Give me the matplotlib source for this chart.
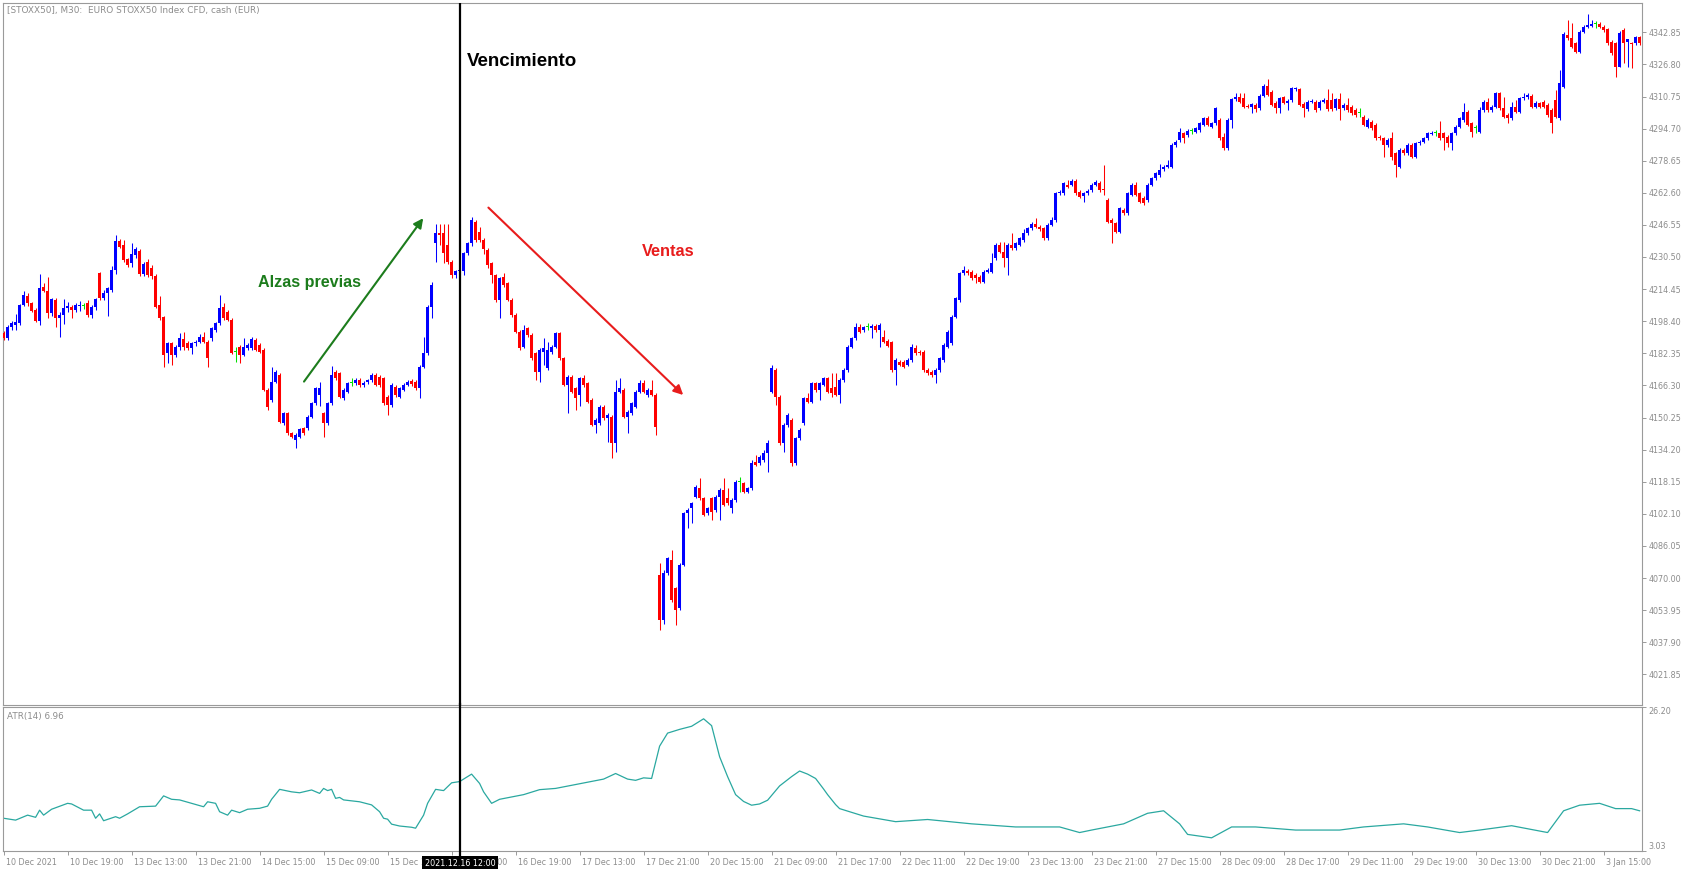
import matplotlib
matplotlib.use("Agg")
import matplotlib.pyplot as plt
import numpy as np
from matplotlib.transforms import ScaledTranslation

W, H, DPI = 1695, 869, 100

# ---------------- data (M30 candles, bar 0 = 10 Dec 11:00) ----------------
opens = [4192.7,4189.8,4195.5,4196.5,4197.3,4206.5,4211,4207.3,4204,4198.7,
 4215.7,4213.7,4202.3,4209,4199.8,4201.5,4204.8,4205.7,4204,4206,
 4206,4207.7,4201.5,4205.3,4222.3,4209.8,4212.3,4214,4224,4238.7,
 4236.5,4229.3,4227.3,4231.5,4233.7,4222,4228,4225,4221,4206.5,
 4200.7,4182.3,4187.3,4181.5,4185.7,4189.3,4187.3,4184.8,4187.3,4188.2,
 4190.7,4188.2,4189.8,4194,4197.3,4205.7,4203.2,4199,4183.2,4185.7,
 4181.5,4184.8,4184.8,4189,4186.5,4184,4164,4159,4168.2,4171.5,
 4147.3,4152.3,4142.3,4139,4140.7,4144.8,4144.8,4150.7,4157.3,4161.5,
 4152.3,4147.3,4157.3,4173.2,4172.3,4159.8,4163.2,4167.7,4167.3,4169,
 4166.5,4168,4169,4171.5,4170.7,4169.8,4160.7,4156.5,4165.7,4160.7,
 4164,4166.5,4168.5,4168.2,4164.8,4175.7,4182.5,4205.7,4237.3,4242.3,
 4242.3,4236.5,4228.2,4221.5,4223.3,4223.5,4232.3,4237.3,4248.2,4243,
 4239,4234,4227.3,4221.5,4209,4220.7,4217.3,4209,4201.5,4193.2,
 4185.7,4194.8,4191.5,4182.3,4173.2,4183.2,4174.8,4183,4185.7,4192.3,
 4179.8,4166.5,4170.7,4164.8,4161.5,4169.8,4167.3,4159,4146.5,4147.3,
 4155.7,4149.8,4150.7,4137.3,4163.2,4164,4150.7,4152.3,4155.7,4163.2,
 4167.3,4161.5,4164,4161.5,4071.5,4049,4072.3,4079,4064.8,4054.8,
 4076.5,4102.3,4104.8,4110.7,4114.8,4109.8,4102.3,4109.8,4104,4110.7,
 4114,4109.8,4104.8,4109,4118.2,4117.3,4113.2,4114.8,4128.2,4127.3,
 4129,4132.3,4163.2,4174,4160.7,4137.3,4146.5,4149,4127.3,4139.8,
 4147.3,4159.8,4158.2,4167.3,4164,4166.5,4169.8,4164.8,4165.7,4161.5,
 4169,4174,4185.7,4189.8,4195.7,4194,4195.3,4194.8,4196,4194,
 4190.7,4188.7,4187.8,4174,4178.2,4178.2,4176.5,4179,4184.8,4183.2,
 4183.2,4174,4173.2,4171.5,4174,4179,4185.7,4187.3,4200.7,4209,
 4222.3,4223.7,4223.2,4221.5,4220.7,4218.2,4223.2,4223.2,4229.8,4236.5,
 4233.2,4229.8,4236.5,4234.8,4236.5,4239,4242.3,4244.8,4247,4245.7,
 4244.8,4239.8,4246.5,4249,4262.3,4262.3,4266.5,4266.5,4268.7,4263.2,
 4261,4262.3,4264,4266.5,4267.7,4264.3,4259,4249,4247.3,4243.2,
 4254,4252.3,4261.5,4266.5,4262.3,4260.2,4259,4266.5,4269.8,4271.5,
 4274.3,4275.7,4275.7,4286.5,4289,4292.3,4291.5,4293.7,4293.2,4294,
 4296.5,4299.8,4295.7,4297.3,4299,4290.7,4284.8,4299,4309.3,4310.3,
 4309.8,4306,4305.7,4306.5,4304.8,4311,4316,4313.2,4307.7,4304.8,
 4310.3,4307.7,4309,4314.3,4314.3,4307,4304.3,4308.2,4308.2,4304.8,
 4308.2,4309,4309,4304.8,4309.3,4304.8,4306.5,4305.7,4304,4302.3,
 4300.7,4295.7,4298.2,4296.5,4290.7,4289.8,4286.5,4289.8,4282.3,4275.7,
 4284,4282.3,4286.5,4280.7,4287.3,4288.2,4289.8,4292,4292.7,4292.7,
 4292.3,4290.7,4287.3,4292.3,4295.7,4299,4303.2,4297.3,4294.8,4293.2,
 4304,4308.2,4304,4305.7,4312.3,4304.8,4301.5,4299.8,4305.7,4303.2,
 4309.8,4310.3,4311,4305.7,4307.3,4308.2,4306.5,4304,4309,4299.8,
 4315.7,4341.5,4339.8,4337.3,4333.2,4343.2,4345.7,4346,4347,4347,
 4345.7,4344.3,4338.2,4337.3,4325.7,4344,4338.2,4337.3,4337.3,4340.3]

highs = [4193.5,4196.5,4198.5,4202,4207,4213.7,4212.3,4208,4205,4222,
 4217.3,4220.7,4210,4210,4203,4209.7,4208,4206.5,4207.5,4208.5,
 4207.7,4209,4206.5,4210,4223,4214,4215.5,4226,4241.5,4239.3,
 4239,4230,4237.7,4235.5,4234.5,4228,4229.5,4226.5,4222,4211,
 4201,4188,4188,4186.5,4192.7,4193,4188.5,4188,4189,4192,
 4193,4189,4195.5,4198,4211.5,4207.3,4204,4200,4185.7,4186.5,
 4189.8,4187.5,4190.7,4190,4187.3,4185,4165,4175.7,4174,4172.5,
 4153,4153,4143,4142.5,4145,4145.5,4151.5,4158,4165.5,4168.2,
 4153,4158,4176,4174,4173,4164.8,4168.2,4170,4170,4170,
 4168.5,4169.5,4172.5,4172.5,4171.5,4170.5,4161.5,4167.3,4166.5,4165.7,
 4167.3,4169,4169.5,4169,4176.5,4190.7,4206.5,4218,4246.8,4246.8,
 4246.8,4246.8,4229,4224,4225,4233,4238,4250.7,4249,4245.7,
 4240,4235,4228,4222,4220.7,4222.3,4218,4210,4202.5,4194,
 4196.5,4195.5,4192.5,4183,4184.8,4189.8,4188,4186.5,4193,4193,
 4180.5,4171.5,4171.5,4165.5,4170.5,4171.5,4168,4160,4149.8,4156.5,
 4156.5,4152.5,4151.5,4169,4169.8,4165,4154,4158,4164,4169,
 4169,4165,4169,4162.3,4077.3,4074,4080.5,4084,4065.5,4077.3,
 4103,4105,4108,4116.5,4119.8,4110.5,4105.5,4110.5,4111.5,4114.8,
 4119.8,4114.8,4109.8,4119,4120.7,4118,4115.5,4129,4131.5,4131.5,
 4134,4139,4176.5,4174.8,4161.5,4147.3,4152.3,4150,4140.5,4144.8,
 4160.5,4162.3,4168,4168,4168,4170.7,4170.5,4172.3,4172.3,4169.8,
 4174.8,4186.5,4190.5,4197.3,4196.8,4196,4197.3,4196.8,4196.8,4197.3,
 4194,4189.5,4188.5,4180,4179,4179,4179.8,4187,4186.5,4184,
 4184,4174.8,4174,4174.8,4180.5,4187.3,4194,4201.5,4210.5,4223,
 4226,4224.3,4224,4222.3,4221.5,4224,4224.8,4232.3,4237.3,4238.2,
 4238.2,4237.3,4242.3,4238,4240.5,4244.3,4245.5,4247.8,4249.8,4246.5,
 4245.5,4247.3,4250.7,4263,4264,4268,4269,4269.5,4269.5,4264,
 4263,4264.5,4267.3,4269,4268.5,4276.5,4259.8,4249.8,4248,4255.5,
 4255,4263,4267.3,4268.2,4263,4261,4267.3,4270.5,4273,4277,
 4276.5,4279,4287.3,4289,4294.8,4293,4294.5,4294.8,4295.5,4298,
 4300.5,4301,4298,4305.5,4299.8,4292.3,4299.8,4310,4312.7,4312.7,
 4312.7,4306.8,4307.5,4307.3,4311.8,4316.8,4319.3,4314,4308.5,4310.5,
 4311,4309.5,4315.7,4315.5,4315,4307.8,4309,4309.5,4309,4309,
 4309.8,4314.3,4312.7,4310,4312.3,4307.3,4309.8,4306.5,4304.8,4304.8,
 4301.5,4299.8,4299,4297.3,4291.5,4290.5,4289.8,4293.2,4283,4284.8,
 4284.8,4287.3,4287.3,4288,4289,4290.5,4293,4293.5,4294,4298.7,
 4293,4291.5,4293,4296.5,4300.5,4307.3,4304,4298,4296.5,4305.7,
 4309,4309.8,4306.5,4313,4313,4310.7,4302.3,4308.2,4309,4310.5,
 4312.3,4312.3,4311.8,4308.7,4308,4309,4307.3,4304.8,4314,4324,
 4342.8,4349,4347.3,4338,4344,4346.5,4352,4349,4348.7,4347.8,
 4346.5,4345,4339,4338,4343.5,4344.8,4339.5,4338,4341,4341]

lows = [4189,4189,4194,4194,4196.5,4206,4206,4203,4198,4196.5,
 4213,4199.8,4201,4195.3,4190.7,4197,4203,4199.8,4203,4203.5,
 4204.3,4200.5,4199.8,4204,4209,4209,4201,4213,4222,4235,
 4228,4225.5,4225.5,4230,4221,4221,4220.5,4219.5,4205,4199,
 4175.7,4177.3,4176.5,4180.5,4184,4184,4184,4182,4186,4187.5,
 4187.5,4175.7,4188.5,4193,4196.5,4199,4198.5,4182,4178.2,4177.3,
 4181,4184,4184,4183.5,4182.5,4163.5,4154,4158,4167.5,4147.5,
 4146.5,4141.5,4140,4134.8,4140,4141.5,4144,4150,4156.5,4156,
 4140.7,4146.5,4156.5,4169,4160,4159,4162.5,4166,4166.5,4165.5,
 4165.5,4167,4168,4166,4165.5,4156.5,4151.5,4155.5,4160.5,4160,
 4163.5,4165.8,4166,4163.8,4159.8,4175,4181.5,4199.8,4228.2,4236.5,
 4227.3,4227,4220,4220,4221.5,4221.5,4231.5,4236,4238,4238,
 4232,4225,4217.3,4208,4199.8,4215.5,4208.5,4200.7,4192.5,4184,
 4185,4190.5,4179,4169,4168,4176.5,4174,4182,4185,4179,
 4166,4152.3,4162.5,4154,4156,4165.7,4157.5,4146,4142.3,4146.5,
 4149,4138.2,4129.8,4133.2,4162.5,4150,4142.3,4151.5,4155,4162.5,
 4162.5,4160.5,4160.8,4141.5,4044,4047,4071.5,4058,4046.5,4054,
 4075.8,4094.8,4097.3,4110,4109,4101,4101.5,4099,4103.2,4099,
 4106,4106.5,4102.3,4108.2,4113.2,4112.5,4112.5,4114,4126,4126.5,
 4128.2,4123.2,4162.3,4156.5,4136.5,4133.2,4145.7,4126,4126.5,4139,
 4146.5,4157.5,4157.5,4163.2,4159,4165.8,4162.5,4160.7,4160.8,4157.3,
 4168.2,4173.2,4185,4189,4192.5,4193.2,4194,4190,4193.2,4185.7,
 4187.5,4185.3,4173.2,4166.5,4175.8,4175,4175.8,4178.2,4181.5,4181.5,
 4173.2,4171.5,4170.7,4167.3,4173.2,4178.2,4185,4186.5,4200,4208.2,
 4221.5,4221.5,4219,4217.3,4217.5,4217.5,4222.5,4222.5,4229,4232.5,
 4225.7,4221.5,4234,4234,4235.8,4238.2,4241.5,4244,4245,4243.5,
 4239,4239,4245.8,4248.2,4261.5,4261.5,4265,4265.8,4261.5,4260,
 4258.2,4261.5,4263.2,4265.8,4263.2,4261.5,4247.5,4237.3,4242.5,4242.5,
 4251.5,4251.5,4260.8,4260.8,4257.5,4256.5,4258.2,4265.8,4269,4270.7,
 4273.5,4275,4275,4285.7,4288.2,4287.3,4290.7,4292,4292.5,4293.2,
 4295.8,4295.8,4295,4296.5,4289,4284,4284,4294.8,4308.5,4307.5,
 4305,4305,4302.3,4303.2,4304,4310.3,4310.8,4305.8,4302.3,4302.3,
 4307,4304,4308.2,4313.5,4305.8,4300.7,4303.5,4307.5,4303.2,4304,
 4307.5,4303.5,4303.5,4304,4299,4304,4303.2,4301.5,4300.7,4300.7,
 4295.8,4295,4294,4289,4289,4280.7,4285.7,4279,4270.7,4275,
 4281.5,4281.5,4280,4280,4286.5,4287.5,4289,4291.3,4291,4289,
 4284,4285.7,4284,4291.5,4295,4298.2,4295.8,4290.7,4292.3,4292.5,
 4303.2,4303.2,4303.2,4305,4304,4300,4297.3,4299,4302.5,4302.5,
 4309,4309.5,4305,4305,4305,4305,4300.7,4292.3,4300,4299,
 4315,4339,4335,4332.5,4332.5,4342.5,4345,4345.3,4345,4345,
 4343.2,4336.5,4331.5,4320.7,4325.7,4327.3,4325.7,4324.8,4336.5,4336.5]

closes = [4189.8,4195.7,4197.7,4198.2,4206.5,4211.5,4207.3,4203.7,4198.7,4214.8,
 4213.7,4202.3,4209.3,4199.8,4201.5,4204.8,4206,4204,4206.3,4206.7,
 4206,4201.5,4205.7,4209.3,4209.8,4212.7,4214.8,4224,4238.7,4235.7,
 4229,4226.5,4232,4234.3,4222,4227,4221.5,4221,4205.7,4199.8,
 4181.5,4187.3,4181.5,4185.7,4189.8,4185.7,4184.8,4187.3,4188.2,4190.7,
 4188.2,4179.8,4194.8,4197.3,4204.8,4199.8,4199,4182.3,4183.2,4181.5,
 4185.7,4186.5,4189.3,4184,4183.2,4164,4155.7,4168.2,4173.2,4148.2,
 4152.3,4142.3,4140.7,4141.5,4144.3,4142.3,4150.7,4157.3,4164.8,4164.8,
 4147.3,4157.3,4171.5,4169.8,4160.7,4164,4167.7,4167.7,4169,4166.5,
 4167.7,4168.8,4171.5,4166.5,4166.5,4157.3,4156.5,4166.5,4161.5,4164.8,
 4166.5,4168.2,4166.8,4164.8,4175.7,4182.5,4205.7,4216.5,4242.3,4241.5,
 4232.3,4228.2,4221.5,4223.5,4224,4232.3,4237.3,4249,4239,4239,
 4234.5,4226.5,4221.5,4209,4219.8,4216.5,4209,4201.5,4193.2,4184.8,
 4194,4191.5,4179.8,4173.2,4184,4185,4184,4185.7,4192.3,4179.8,
 4166.5,4170.7,4163.2,4159.8,4169.8,4166.5,4158.2,4146.5,4149,4155.7,
 4149.8,4151.5,4137.3,4163.2,4164.8,4150.7,4153.2,4157.3,4163.2,4167.3,
 4163.2,4164,4161.5,4145.7,4049,4072.3,4079.8,4059,4054,4076.5,
 4102.3,4104,4107.3,4115.7,4109.8,4101.5,4104.8,4103.2,4110.7,4114,
 4106.5,4107.3,4109,4118.2,4118.2,4113.2,4114.8,4127.3,4126.5,4130.7,
 4132.3,4137.3,4174.8,4160.7,4137.3,4146.5,4151.5,4127.3,4139.8,4144,
 4159.8,4158.2,4167.3,4164,4167.3,4169.8,4163.2,4162.3,4161.5,4169,
 4174,4185.7,4189.8,4195.7,4193.2,4195.3,4195.3,4196,4194,4196.5,
 4188.2,4186,4174,4179,4176.5,4175.7,4179,4185.7,4182.3,4182.3,
 4174,4172.3,4171.5,4174,4179.8,4186.5,4193.2,4200.7,4209.8,4222.3,
 4224,4222.3,4219.8,4219.8,4218.2,4223.2,4224,4227.3,4236.5,4233.2,
 4229.8,4236.5,4234.8,4237.3,4239.8,4242.3,4244.8,4247,4245.7,4244.3,
 4239.8,4246.5,4249,4262.3,4263.2,4267.3,4265.7,4268.7,4262.3,4260.7,
 4262.3,4263.7,4266.5,4268.2,4264,4264,4248.2,4247.3,4243.2,4254.8,
 4252.3,4262.3,4266.5,4261.5,4258.2,4257.3,4266.5,4269.8,4272.3,4274,
 4275.7,4276.5,4286.5,4288.2,4293.2,4289.8,4293.7,4293.7,4294.8,4297.3,
 4299.8,4296.5,4297.3,4304.8,4289.8,4284.8,4299,4309.3,4310.3,4308.2,
 4305.7,4305.7,4306.8,4304.5,4311,4316,4311.5,4306.5,4304.8,4309.8,
 4307.7,4308.7,4314.8,4314.8,4306.5,4304.8,4308.2,4308.7,4304,4308.2,
 4309,4304.3,4304.3,4309.3,4304.3,4306.5,4304,4302.3,4301.5,4302.3,
 4296.5,4299,4294.8,4289.8,4289.8,4286.5,4289,4280.7,4276.5,4284,
 4282.3,4286.5,4280.7,4287.3,4288.2,4289.8,4292.3,4292.7,4292.7,4289.8,
 4289.8,4287.3,4292.3,4295.7,4299.8,4303.2,4296.5,4293.2,4294.8,4304,
 4308.2,4304,4305.7,4312.3,4304.8,4300.7,4299.8,4305.7,4303.2,4309.8,
 4310.3,4311.5,4305.7,4307.3,4305.7,4305.7,4301.5,4297.3,4300.7,4317.3,
 4342,4339.8,4335.7,4333.2,4343.2,4345.7,4346.5,4347,4347,4345.7,
 4344,4337.3,4332.3,4325.7,4342.7,4337.3,4339.3,4337,4340.3,4337.3]

atr_bars = [0,3,6,8,9,10,12,16,17,20,22,23,24,25,28,29,31,34,38,40,42,44,47,50,51,
 53,54,56,57,59,61,64,66,67,69,72,74,77,79,80,81,82,83,84,85,89,92,94,95,96,97,99,
 102,103,105,106,108,110,112,114,117,119,120,122,124,126,130,134,138,142,146,150,
 153,156,158,160,162,164,166,169,172,175,177,179,181,183,185,187,189,191,194,197,
 199,201,203,205,206,208,209,215,223,231,242,253,264,269,272,280,286,290,294,296,
 302,307,313,323,334,340,350,356,364,369,377,386,390,394,399,403,407,409]
atr_vals = [8.3,8.0,8.8,8.45,9.6,8.8,9.75,10.7,10.6,9.6,9.6,8.3,9.0,7.9,8.55,8.3,9.0,
 10.15,10.25,11.9,11.35,11.25,10.7,10.15,10.95,10.7,9.35,8.8,9.6,9.2,9.75,9.9,10.25,
 11.35,12.95,12.55,12.4,12.85,12.3,13.1,12.75,12.95,11.5,11.65,11.25,10.95,10.45,
 9.35,8.3,8.15,7.35,7.05,6.85,6.7,8.8,10.7,12.95,12.75,14.0,14.2,15.4,13.9,12.55,
 10.7,11.35,11.6,12.1,12.9,13.1,13.6,14.1,14.6,15.5,14.6,14.4,14.8,14.7,19.9,22.0,
 22.6,23.1,24.3,23.2,18.2,15.0,12.1,11.0,10.4,10.6,11.2,13.5,15.0,15.9,15.4,14.7,
 13.0,12.1,10.5,9.85,8.65,7.75,8.1,7.4,6.9,6.9,6.0,6.4,7.4,9.1,9.5,7.4,5.7,5.15,
 6.9,6.9,6.4,6.4,6.9,7.4,6.9,6.0,6.4,7.1,6.0,9.5,10.4,10.7,9.85,9.85,9.5]

price_ticks = [4342.85,4326.80,4310.75,4294.70,4278.65,4262.60,4246.55,4230.50,
 4214.45,4198.40,4182.35,4166.30,4150.25,4134.20,4118.15,4102.10,4086.05,4070.00,
 4053.95,4037.90,4021.85]
time_tick_bars = [0,16,32,48,64,80,96,112,128,144,160,176,192,208,224,240,256,272,
 288,304,320,336,352,368,384,400]
time_tick_labels = ["10 Dec 2021","10 Dec 19:00","13 Dec 13:00","13 Dec 21:00",
 "14 Dec 15:00","15 Dec 09:00","15 Dec 17:00","16 Dec 11:00","16 Dec 19:00",
 "17 Dec 13:00","17 Dec 21:00","20 Dec 15:00","21 Dec 09:00","21 Dec 17:00",
 "22 Dec 11:00","22 Dec 19:00","23 Dec 13:00","23 Dec 21:00","27 Dec 15:00",
 "28 Dec 09:00","28 Dec 17:00","29 Dec 11:00","29 Dec 19:00","30 Dec 13:00",
 "30 Dec 21:00","3 Jan 15:00"]
atr_range = [3.03, 26.20]
title_text = "[STOXX50], M30:  EURO STOXX50 Index CFD, cash (EUR)"
atr_text = "ATR(14) 6.96"
expiry_bar = 114
expiry_text = "2021.12.16 12:00"

# ---------------- style ----------------
BLUE, RED, DOJI = "#0000ff", "#ff0000", "#00e000"
GRAY_TXT, GRAY_LN = "#8c8c8c", "#9a9a9a"
ATR_COL = "#2aa8a0"
GREEN_ANN, RED_ANN = "#1c7c1c", "#e81c1c"
FS = 5.8

fig = plt.figure(figsize=(W / DPI, H / DPI), dpi=DPI)
fig.patch.set_facecolor("white")

def fx(px):
    return px / W

def fy(py):
    return 1 - py / H

ax = fig.add_axes([fx(3), fy(705), fx(1642) - fx(3), fy(3) - fy(705)])
ax2 = fig.add_axes([fx(3), fy(851), fx(1642) - fx(3), fy(707) - fy(851)])

o = np.array(opens); h = np.array(highs); l = np.array(lows); c = np.array(closes)
x = np.arange(len(c))
cols = np.where(c > o, BLUE, np.where(c < o, RED, DOJI))
ax.vlines(x, l, h, colors=cols, linewidth=0.75, zorder=2)
ax.bar(x, np.maximum(np.abs(c - o), 0.5), bottom=np.minimum(o, c), width=0.75,
       color=cols, linewidth=0, zorder=3)

ax.set_xlim(-0.15, 409.6)
ax.set_ylim(4006.5, 4357.5)
ax.set_xticks([])
ax.yaxis.tick_right()
ax.set_yticks(price_ticks)
ax.set_yticklabels([f"{v:.2f}" for v in price_ticks])
ax.tick_params(axis="y", colors=GRAY_LN, labelcolor=GRAY_TXT, length=3, width=0.7,
               pad=1.5, labelsize=FS, direction="out")
for s in ax.spines.values():
    s.set_color(GRAY_LN); s.set_linewidth(0.8)

# ATR panel
ax2.plot(atr_bars, atr_vals, color=ATR_COL, linewidth=0.9)
ax2.set_xlim(-0.15, 409.6)
ax2.set_ylim(*atr_range)
ax2.yaxis.tick_right()
ax2.set_yticks(atr_range)
ax2.set_yticklabels([f"{v:.2f}" for v in atr_range])
ax2.tick_params(axis="y", colors=GRAY_LN, labelcolor=GRAY_TXT, length=3, width=0.7,
                pad=1.5, labelsize=FS, direction="out")
yl = ax2.get_yticklabels()
yl[0].set_va("bottom"); yl[1].set_va("top")
ax2.set_xticks(time_tick_bars)
ax2.set_xticklabels(time_tick_labels)
ax2.tick_params(axis="x", colors=GRAY_LN, labelcolor=GRAY_TXT, length=3, width=0.7,
                pad=2.2, labelsize=FS, direction="out")
off = ScaledTranslation(1.6 / 72, 0, fig.dpi_scale_trans)
for lab in ax2.get_xticklabels():
    lab.set_ha("left")
    lab.set_transform(lab.get_transform() + off)
for s in ax2.spines.values():
    s.set_color(GRAY_LN); s.set_linewidth(0.8)

# expiry vertical line
ax.axvline(expiry_bar, color="black", linewidth=1.6, zorder=5)
ax2.axvline(expiry_bar, ymin=-0.045, ymax=1.02, color="black", linewidth=1.6,
            zorder=5, clip_on=False)

# annotations
ax.annotate("", xy=(104.9, 4249.9), xytext=(75.1, 4168.2),
            arrowprops=dict(arrowstyle="-|>", color=GREEN_ANN, lw=1.5,
                            mutation_scale=14, shrinkA=0, shrinkB=0), zorder=6)
ax.annotate("", xy=(169.9, 4161.5), xytext=(121.2, 4255.2),
            arrowprops=dict(arrowstyle="-|>", color=RED_ANN, lw=1.5,
                            mutation_scale=14, shrinkA=0, shrinkB=0), zorder=6)
ax.text(76.4, 4217.5, "Alzas previas", color=GREEN_ANN, fontsize=11.6,
        fontweight="bold", family="Liberation Sans", ha="center", va="center")
ax.text(166.1, 4233.5, "Ventas", color=RED_ANN, fontsize=11.8,
        fontweight="bold", family="Liberation Sans", ha="center", va="center")
ax.text(115.9, 4328.2, "Vencimiento", color="black", fontsize=13.5,
        fontweight="bold", family="Liberation Sans", ha="left", va="center")

fig.text(fx(7), fy(10), title_text, fontsize=6.4, color=GRAY_TXT, ha="left", va="center")
fig.text(fx(7), fy(716), atr_text, fontsize=6.3, color=GRAY_TXT, ha="left", va="center")
fig.text(fx(460), fy(863), expiry_text, fontsize=FS, color="white", ha="center",
         va="center", zorder=10,
         bbox=dict(facecolor="black", edgecolor="none", boxstyle="square,pad=0.3"))

fig.savefig("out.png", dpi=DPI, facecolor="white")
